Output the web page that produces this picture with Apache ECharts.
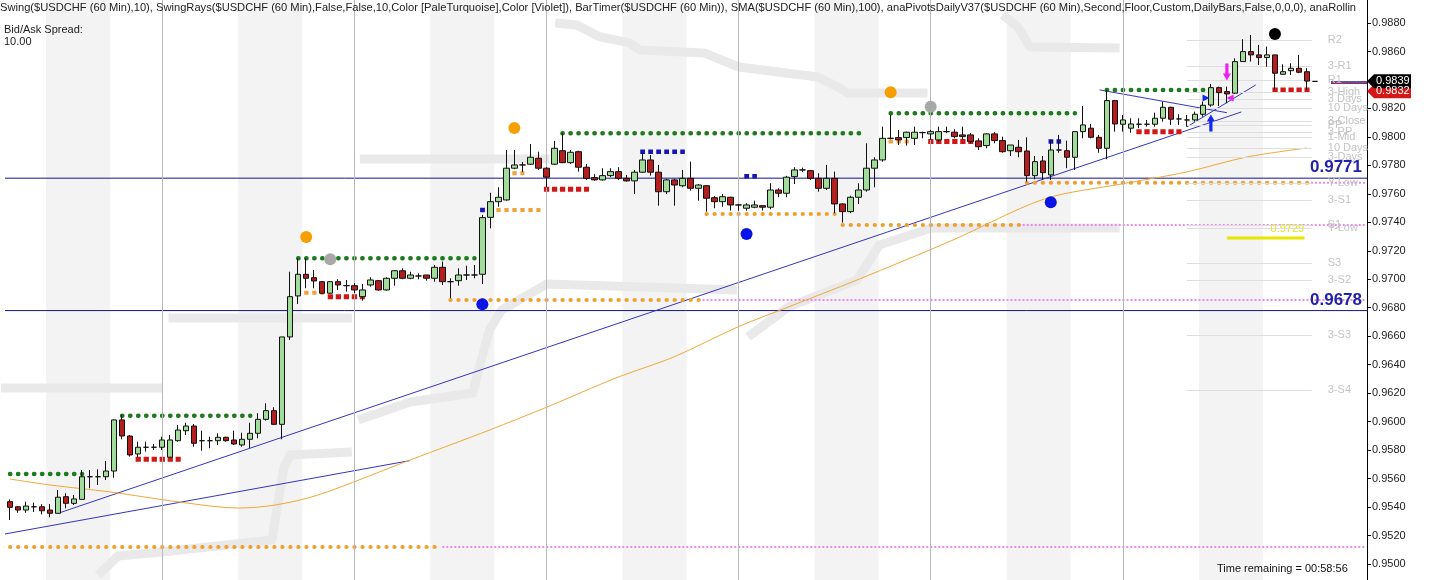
<!DOCTYPE html>
<html><head><meta charset="utf-8">
<script src="https://cdn.jsdelivr.net/npm/echarts@6/dist/echarts.min.js"></script>
<style>html,body{margin:0;padding:0;background:#fff}#c{width:1430px;height:580px}</style>
</head><body><div id="c"></div>
<script>
// ---------- data ----------
const categories = Array.from({length:170}, (_, i) => String(i));
const opens = [
0.95438,0.95402,0.95379,0.95402,0.95402,0.95379,0.95356,0.95473,0.95426,0.95454,
0.95613,0.95613,0.95613,0.95653,0.96012,0.95899,0.95773,0.95820,0.95820,0.95820,
0.95750,0.95866,0.95936,0.95969,0.95866,0.95866,0.95866,0.95890,0.95871,0.95836,
0.95876,0.95918,0.96016,0.96077,0.95981,0.96595,0.96883,0.97035,0.97011,0.96983,
0.96902,0.96983,0.96955,0.96955,0.96878,0.96960,0.96990,0.96925,0.97007,0.97060,
0.97007,0.97023,0.97030,0.97007,0.97084,0.96983,0.96990,0.97030,0.97030,0.97035,
0.97435,0.97545,0.97557,0.97780,0.97803,0.97808,0.97850,0.97780,0.97808,0.97903,
0.97819,0.97896,0.97787,0.97714,0.97698,0.97728,0.97756,0.97709,0.97691,0.97752,
0.97838,0.97752,0.97615,0.97698,0.97657,0.97709,0.97639,0.97657,0.97573,0.97545,
0.97576,0.97522,0.97499,0.97506,0.97517,0.97506,0.97627,0.97604,0.97721,0.97768,
0.97763,0.97709,0.97639,0.97709,0.97529,0.97475,0.97576,0.97627,0.97780,0.97838,
0.97990,0.97995,0.97995,0.97990,0.98030,0.98021,0.97979,0.98037,0.98033,0.98014,
0.98014,0.97972,0.97939,0.98021,0.97974,0.97903,0.97927,0.97901,0.97728,0.97831,
0.97733,0.97908,0.97903,0.97857,0.98037,0.98061,0.97997,0.97920,0.98255,0.98089,
0.98061,0.98089,0.98089,0.98089,0.98131,0.98208,0.98126,0.98119,0.98119,0.98159,
0.98224,0.98346,0.98318,0.98307,0.98529,0.98599,0.98576,0.98557,0.98576,0.98440,
0.98465,0.98482,0.98458,0.98390];
const closes = [
0.95398,0.95379,0.95407,0.95402,0.95374,0.95356,0.95469,0.95426,0.95457,0.95613,
0.95613,0.95613,0.95653,0.96012,0.95899,0.95766,0.95820,0.95820,0.95820,0.95871,
0.95871,0.95941,0.95969,0.95848,0.95866,0.95866,0.95890,0.95866,0.95843,0.95876,
0.95918,0.96016,0.96077,0.95981,0.96595,0.96878,0.97035,0.97007,0.96988,0.96902,
0.96983,0.96960,0.96955,0.96925,0.96925,0.96995,0.96925,0.97007,0.97060,0.97007,
0.97030,0.97023,0.97007,0.97084,0.96983,0.96983,0.97030,0.97030,0.97030,0.97433,
0.97545,0.97576,0.97780,0.97803,0.97803,0.97857,0.97780,0.97717,0.97920,0.97819,
0.97892,0.97787,0.97709,0.97698,0.97728,0.97756,0.97709,0.97691,0.97752,0.97838,
0.97752,0.97615,0.97698,0.97662,0.97709,0.97639,0.97662,0.97569,0.97545,0.97580,
0.97522,0.97522,0.97522,0.97522,0.97506,0.97627,0.97604,0.97717,0.97768,0.97768,
0.97709,0.97639,0.97709,0.97529,0.97475,0.97576,0.97627,0.97780,0.97838,0.97990,
0.97990,0.97979,0.98033,0.98033,0.98030,0.98037,0.98037,0.98037,0.98002,0.98002,
0.97967,0.97931,0.98021,0.97974,0.97896,0.97943,0.97896,0.97728,0.97826,0.97749,
0.97908,0.97908,0.97857,0.98037,0.98084,0.97997,0.97920,0.98255,0.98091,0.98119,
0.98091,0.98089,0.98089,0.98131,0.98208,0.98124,0.98126,0.98119,0.98159,0.98222,
0.98346,0.98311,0.98302,0.98529,0.98599,0.98576,0.98557,0.98576,0.98447,0.98458,
0.98482,0.98454,0.98392,0.98390];
const lows = [
0.95309,0.95360,0.95360,0.95365,0.95349,0.95328,0.95356,0.95391,0.95414,0.95454,
0.95532,0.95555,0.95590,0.95606,0.95876,0.95754,0.95750,0.95789,0.95801,0.95801,
0.95750,0.95859,0.95906,0.95824,0.95796,0.95813,0.95836,0.95859,0.95836,0.95824,
0.95813,0.95883,0.96007,0.95976,0.95876,0.96574,0.96826,0.96937,0.96937,0.96897,
0.96897,0.96925,0.96913,0.96902,0.96850,0.96948,0.96920,0.96920,0.96955,0.97000,
0.97000,0.97000,0.96990,0.96983,0.96960,0.96866,0.96955,0.96995,0.97007,0.96967,
0.97358,0.97510,0.97552,0.97773,0.97754,0.97803,0.97768,0.97646,0.97803,0.97815,
0.97810,0.97756,0.97698,0.97691,0.97693,0.97717,0.97698,0.97686,0.97599,0.97749,
0.97728,0.97517,0.97599,0.97517,0.97646,0.97622,0.97552,0.97475,0.97499,0.97510,
0.97482,0.97482,0.97482,0.97499,0.97482,0.97492,0.97576,0.97576,0.97669,0.97752,
0.97698,0.97615,0.97627,0.97464,0.97398,0.97464,0.97529,0.97615,0.97646,0.97826,
0.97983,0.97943,0.97939,0.97943,0.97990,0.97979,0.97967,0.98026,0.97990,0.97983,
0.97955,0.97908,0.97920,0.97955,0.97889,0.97866,0.97857,0.97686,0.97702,0.97698,
0.97698,0.97889,0.97780,0.97768,0.97990,0.97990,0.97889,0.97843,0.98037,0.98037,
0.98030,0.98061,0.98072,0.98072,0.98107,0.98084,0.98084,0.98072,0.98107,0.98142,
0.98212,0.98217,0.98236,0.98302,0.98529,0.98529,0.98505,0.98493,0.98330,0.98435,
0.98435,0.98447,0.98330,0.98390];
const highs = [
0.95454,0.95407,0.95438,0.95431,0.95421,0.95421,0.95520,0.95497,0.95485,0.95660,
0.95660,0.95665,0.95724,0.96016,0.96047,0.95906,0.95859,0.95859,0.95843,0.95894,
0.95906,0.95976,0.95992,0.95983,0.95936,0.95894,0.95918,0.95894,0.95936,0.95922,
0.95992,0.96059,0.96129,0.96101,0.96595,0.97053,0.97147,0.97147,0.97065,0.96988,
0.96988,0.97000,0.96995,0.96972,0.96967,0.97014,0.96995,0.97014,0.97065,0.97077,
0.97053,0.97042,0.97030,0.97100,0.97124,0.97007,0.97077,0.97095,0.97100,0.97452,
0.97608,0.97646,0.97908,0.97908,0.97824,0.97950,0.97896,0.97787,0.97972,0.98026,
0.97908,0.97903,0.97810,0.97738,0.97780,0.97780,0.97787,0.97733,0.97768,0.97885,
0.97873,0.97803,0.97705,0.97705,0.97768,0.97826,0.97669,0.97662,0.97585,0.97599,
0.97580,0.97527,0.97534,0.97552,0.97517,0.97674,0.97639,0.97726,0.97787,0.97784,
0.97768,0.97745,0.97803,0.97756,0.97534,0.97587,0.97674,0.97955,0.97857,0.98072,
0.98154,0.98049,0.98037,0.98072,0.98037,0.98049,0.98072,0.98072,0.98054,0.98072,
0.98026,0.97990,0.98026,0.98033,0.98002,0.97943,0.97979,0.97997,0.97866,0.97866,
0.97979,0.98014,0.97974,0.98037,0.98217,0.98091,0.98014,0.98330,0.98260,0.98154,
0.98131,0.98131,0.98119,0.98170,0.98248,0.98212,0.98159,0.98154,0.98177,0.98248,
0.98372,0.98353,0.98353,0.98552,0.98686,0.98716,0.98646,0.98634,0.98576,0.98510,
0.98517,0.98576,0.98482,0.98390];

const smaPoints = [[0,0.95597],[5,0.95555],[12.5,0.95506],[21.2,0.95435],[28.5,0.95393],[33.1,0.95414],[38.5,0.95485],[50,0.95731],[59.9,0.95941],[67.1,0.96103],[75.7,0.96307],[82.9,0.96454],[90.9,0.96665],[97.2,0.96805],[105.8,0.96995],[117.8,0.97276],[129.2,0.97564],[138.9,0.97670],[147,0.97754],[154.5,0.97859],[162,0.97922]];

const stripes = [[4.5,12.5],[28.5,36.5],[52.5,60.5],[76.5,84.5],[100.5,108.5],[124.5,132.5],[148.5,156.5]];
const dayLines = [19,43,67,91,115,139];

const greenLevels = [[0,9,0.95632],[14,30,0.96042],[36,58,0.97147],[69,107,0.98026],[110,133,0.98166],[137,150,0.98330]];
const redLevels = [[16,21,0.95735],[40,44,0.96878],[67,72,0.97632],[115,120,0.97967],[141,146,0.98037],[158,162,0.98330]];
const orangeSqLevels = [[37,39,0.96906],[61,66,0.97487],[63,64,0.97744],[110,112,0.97967]];
const blueSqLevels = [[59,60,0.97487],[79,84,0.97896],[92,93,0.97724],[130,131,0.97967]];
const orangeDotLevels = [[-1,54,0.95119],[55,86,0.96855],[87,103,0.97459],[104,126,0.97381],[127,162,0.97678]];
const pinkRays = [[54,0.95119],[86,0.96855],[126,0.97381],[162,0.97678]];

const keyLevels = [0.9771, 0.9678];
const trendLines = [[[-1.3,0.95204],[49.95,0.95726]],[[6,0.95356],[153.8,0.98175]],[[147,0.98070],[155.6,0.98365]],[[136.1,0.98330],[152,0.98170]]];

const orangeSwing = [[37,0.97297],[63,0.98063],[110,0.98314]];
const greySwing = [[40,0.97140],[115,0.98212]];
const blueSwing = [[59,0.96824],[92,0.97318],[130,0.97541]];
const blackSwing = [[158,0.98723]];
const downArrows = [[152,0.98456]];
const upArrows = [[150,0.98098]];
const rightTriangles = [[149.4,0.98274]];
const leftTriangles = [[152.4,0.98274]];

const pivotNames = ['R2','3-R1','R1','3-High','3 Days','10 Days','3-Close','PP','3-PP','1-Mid','10 Days','3-Days','Y-Low','3-S1','S1','Y-Low','S3','3-S2','3-S3','3-S4'];
const pivotPrices = [0.98681,0.98498,0.98400,0.98316,0.98267,0.98203,0.98112,0.98084,0.98035,0.97999,0.97922,0.97859,0.97676,0.97557,0.97381,0.97360,0.97114,0.96995,0.96609,0.96222];
const yellowLevel = [152,161.7,0.97290];

const rollBands = [
 [[-1.3,0.96236],[19,0.96236]],
 [[19.8,0.96728],[42.7,0.96728]],
 [[43.7,0.97845],[67.4,0.97845]],
 [[68.1,0.98800],[70.8,0.98786],[73.7,0.98702],[77.4,0.98660],[78.7,0.98611],[86.7,0.98590],[91,0.98491],[100.9,0.98421],[103.4,0.98351],[104.6,0.98309],[114.6,0.98309]],
 [[124,0.98857],[125.9,0.98772],[127.4,0.98632],[138.6,0.98625]],
 [[11,0.94923],[13.5,0.95056],[19,0.95084],[32.7,0.95168],[34.2,0.95674],[35,0.95766],[42.7,0.95787]],
 [[43.5,0.96012],[50,0.96138],[57.8,0.96201],[58.7,0.96398],[59.9,0.96644],[61.4,0.96784],[67.1,0.96967],[90.8,0.96925]],
 [[92.2,0.96595],[97.2,0.96805],[105.8,0.96995],[108.6,0.97241],[115.1,0.97360],[138.6,0.97360]]
];

const lastPrice = 0.9839, bidPrice = 0.9832;
const headerText = 'Swing($USDCHF (60 Min),10), SwingRays($USDCHF (60 Min),False,False,10,Color [PaleTurquoise],Color [Violet]), BarTimer($USDCHF (60 Min)), SMA($USDCHF (60 Min),100), anaPivotsDailyV37($USDCHF (60 Min),Second,Floor,Custom,DailyBars,False,0,0,0), anaRollingPivots';

// ---------- chart ----------
const FONT = 'Liberation Sans, Arial, sans-serif';
const chart = echarts.init(document.getElementById('c'), null, {renderer:'canvas'});
const series = [];

// background stripes & day lines (full-height grid)
series.push({
  type:'line', xAxisIndex:2, yAxisIndex:1, data:[], z:0, silent:true,
  markArea:{silent:true, itemStyle:{color:'#f3f3f3'}, data: stripes.map(s => [{xAxis:s[0]},{xAxis:s[1]}])},
  markLine:{silent:true, symbol:'none', label:{show:false}, lineStyle:{color:'#b8b8b8', width:1, type:'solid'},
    data: dayLines.map(d => ({xAxis:d}))}
});

// rolling grey bands
rollBands.forEach(b => series.push({type:'line', xAxisIndex:1, yAxisIndex:0, data:b, symbol:'none', clip:false, silent:true, z:1,
  lineStyle:{color:'#e9e9e9', width:9, cap:'butt', join:'round'}}));

// pivot lines + labels
series.push({type:'line', xAxisIndex:1, yAxisIndex:0, data:[], clip:false, z:2,
  markLine:{silent:true, symbol:'none', animation:false,
    lineStyle:{color:'#dedede', width:1, type:'solid'},
    label:{show:true, position:'end', distance:16, color:'#c4c4c4', fontSize:11, fontFamily:FONT},
    data: pivotPrices.map((p,i) => [{coord:[147,p], label:{formatter:pivotNames[i]}},{coord:[162.6,p]}])
  }});

// yellow level
series.push({type:'line', xAxisIndex:1, yAxisIndex:0, data:[[yellowLevel[0],yellowLevel[2]],[yellowLevel[1],yellowLevel[2]]], symbol:'none', z:3,
  lineStyle:{color:'#e6e600', width:3},
  endLabel:{show:true, formatter:String(yellowLevel[2].toFixed(4)), color:'#e6e600', fontSize:11, fontFamily:FONT, offset:[-42,-9]}});

// pink rays
pinkRays.forEach(r => series.push({type:'line', xAxisIndex:1, yAxisIndex:0, data:[[r[0],r[1]],[169.3,r[1]]], symbol:'none', clip:false, z:3, silent:true,
  lineStyle:{color:'#ee88ee', width:2, type:[2,2]}}));

// key navy lines with bold value labels
keyLevels.forEach(v => series.push({type:'line', xAxisIndex:1, yAxisIndex:0, data:[[-1.3,v],[169.5,v]], symbol:'none', clip:false, z:3, silent:true,
  lineStyle:{color:'#14148c', width:1},
  endLabel:{show:true, formatter:v.toFixed(4), color:'#2222aa', fontSize:17, fontWeight:'bold', fontFamily:FONT,
    align:'right', verticalAlign:'bottom', distance:0, offset:[-5,-2]}}));

// trend lines
trendLines.forEach(t => series.push({type:'line', xAxisIndex:1, yAxisIndex:0, data:t, symbol:'none', clip:false, z:4, silent:true,
  lineStyle:{color:'#3434c4', width:1}}));

// SMA
series.push({type:'line', xAxisIndex:1, yAxisIndex:0, data:smaPoints, symbol:'none', smooth:0.3, z:4, silent:true,
  lineStyle:{color:'#f0a838', width:1}});

// dotted levels
function dotted(levels, color, width, cap, z){
  levels.forEach(l => series.push({type:'line', xAxisIndex:1, yAxisIndex:0, data:[[l[0],l[2]],[l[1]+0.01,l[2]]], symbol:'none', z:z, silent:true, clip:false,
    lineStyle:{color:color, width:width, cap:cap, type:[0.3, 8.008-0.3]}}));
}
dotted(orangeDotLevels, '#f0a030', 4, 'round', 4);
dotted(greenLevels, '#1d7a1d', 4.5, 'round', 4);
dotted(redLevels, '#d01818', 5, 'square', 4);
dotted(orangeSqLevels, '#f0a040', 4, 'square', 4);
dotted(blueSqLevels, '#1616b4', 4.5, 'square', 4);

// candles
series.push({type:'candlestick', xAxisIndex:0, yAxisIndex:0, z:5, barWidth:6,
  data: opens.map((o,i) => [o, closes[i], lows[i], highs[i]]),
  itemStyle:{color:'#a2dc9a', color0:'#b41e1e', borderColor:'#111', borderColor0:'#111', borderColorDoji:'#111', borderWidth:1}});

// swing dots & arrows
function dots(pts, color, size, symbol, rotate){
  series.push({type:'scatter', xAxisIndex:1, yAxisIndex:0, data:pts, symbol:symbol||'circle', symbolSize:size, symbolRotate:rotate||0, z:7, clip:false,
    itemStyle:{color:color, opacity:1}});
}
dots(orangeSwing, '#f5a000', 12);
dots(greySwing, '#a8a8a8', 12);
dots(blueSwing, '#0a14e6', 12);
dots(blackSwing, '#000000', 12);
dots(downArrows, '#f020f0', [8,17], 'path://M3,0H7V10H10L5,17L0,10H3Z');
dots(upArrows, '#1028f0', [8,17], 'path://M5,0L10,7H7V17H3V7H0Z');
dots(rightTriangles, '#1028f0', 7, 'triangle', -90);
dots(leftTriangles, '#f020f0', 7, 'triangle', 90);

// current price short lines
series.push({type:'line', xAxisIndex:1, yAxisIndex:0, data:[], clip:false, z:3,
  markLine:{silent:true, symbol:'none', label:{show:false}, animation:false,
    data:[[{coord:[165,lastPrice], lineStyle:{color:'#20208c', width:1.5, type:'solid'}},{coord:[169.5,lastPrice]}],
          [{coord:[165,lastPrice-0.00012], lineStyle:{color:'#b02060', width:1, type:'solid'}},{coord:[169.5,lastPrice-0.00012]}]]}});

chart.setOption({
  animation:false,
  backgroundColor:'#ffffff',
  grid:[{left:6, right:63, top:23, bottom:16}, {left:6, right:63, top:0, bottom:0}],
  xAxis:[
    {type:'category', gridIndex:0, data:categories, boundaryGap:true, show:false},
    {type:'value', gridIndex:0, min:-0.5, max:169.5, show:false},
    {type:'value', gridIndex:1, min:-0.5, max:169.5, show:false}
  ],
  yAxis:[
    {type:'value', gridIndex:0, position:'right', min:0.95, max:0.988, interval:0.002,
      axisLine:{show:false, onZero:false}, axisTick:{show:true, length:4, lineStyle:{color:'#000'}},
      axisLabel:{color:'#222', fontSize:11, fontFamily:FONT, margin:5, formatter:v => v.toFixed(4)},
      splitLine:{show:false}},
    {type:'value', gridIndex:1, position:'right', min:0, max:1, axisLine:{show:true, onZero:false, lineStyle:{color:'#000', width:1}},
      axisTick:{show:false}, axisLabel:{show:false}, splitLine:{show:false}}
  ],
  series: series
});

// overlay texts and price tags positioned by the axis scale
const yLast = chart.convertToPixel({yAxisIndex:0}, lastPrice);
const yBid = chart.convertToPixel({yAxisIndex:0}, bidPrice);
const axisX = chart.convertToPixel({xAxisIndex:1}, 169.5);
function tag(y, fill, txt){
  return [{type:'polygon', z:100, shape:{points:[[axisX,y],[axisX+7,y-7],[axisX+44,y-7],[axisX+44,y+7],[axisX+7,y+7]]}, style:{fill:fill}},
          {type:'text', z:101, x:axisX+9, y:y, style:{text:txt, fill:'#fff', font:'11px '+FONT, textVerticalAlign:'middle'}}];
}
chart.setOption({graphic:[
  {type:'text', left:0, top:2, z:100, style:{text:headerText, fill:'#222', font:'11.15px '+FONT, width:1363, overflow:'truncate', ellipsis:''}},
  {type:'text', left:4, top:24, z:100, style:{text:'Bid/Ask Spread:\n10.00', fill:'#222', font:'11px '+FONT, lineHeight:12}},
  {type:'text', left:1217, top:563, z:100, style:{text:'Time remaining = 00:58:56', fill:'#111', font:'11px '+FONT}},
  ...tag(yBid, '#d41818', bidPrice.toFixed(4)),
  ...tag(yLast, '#000', lastPrice.toFixed(4))
]});
</script></body></html>
